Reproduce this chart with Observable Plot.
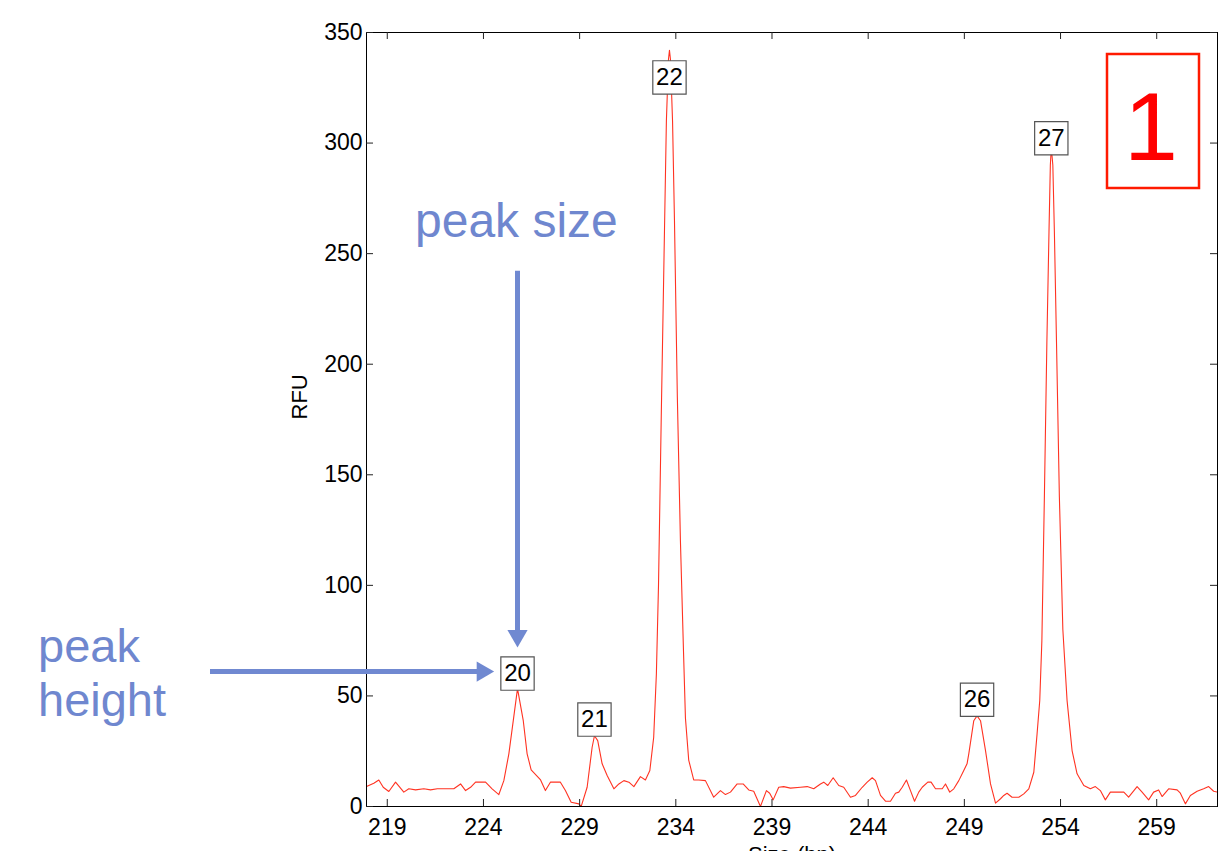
<!DOCTYPE html>
<html>
<head>
<meta charset="utf-8">
<script src="https://cdn.jsdelivr.net/npm/d3@7"></script>
<script src="https://cdn.jsdelivr.net/npm/@observablehq/plot@0.6"></script>
<style>
  html, body { margin: 0; padding: 0; background: #fff; overflow: hidden; }
  #wrap { position: relative; width: 1218px; height: 851px; }
  #chart { position: absolute; left: 0; top: 0; }
  #overlay { position: absolute; left: 0; top: 0; pointer-events: none; }
</style>
</head>
<body>
<div id="wrap">
  <div id="chart"></div>
  <svg id="overlay" width="1218" height="851" font-family="'Liberation Sans', Arial, Helvetica, sans-serif">
    <text x="415" y="237" font-size="48" fill="#6f87cf">peak size</text>
    <text x="38" y="662" font-size="47" fill="#6f87cf">peak</text>
    <text x="38" y="716" font-size="47" fill="#6f87cf">height</text>
    <rect x="1107" y="54" width="92" height="134" fill="none" stroke="#ff1a00" stroke-width="2.5"></rect>
    <text x="1124" y="159.5" font-size="97" fill="#ff0000">1</text>
  </svg>
</div>
<script>
// Trace: fragment size (bp) and signal (RFU)
const sizes = [
  217.92, 218.30, 218.56, 218.79, 219.08, 219.43, 219.86, 220.12, 220.47, 220.90,
  221.25, 221.60, 222.46, 222.81, 223.07, 223.33, 223.59, 224.11, 224.45, 224.80,
  225.06, 225.32, 225.55, 225.77, 226.07, 226.27, 226.48, 226.97, 227.22, 227.48,
  228.00, 228.26, 228.56, 228.96, 229.08, 229.39, 229.65, 229.77, 229.94, 230.17,
  230.43, 230.78, 231.04, 231.30, 231.56, 231.82, 232.16, 232.42, 232.65, 232.85,
  232.99, 233.10, 233.25, 233.41, 233.51, 233.62, 233.67, 233.72, 233.83, 233.93,
  234.08, 234.24, 234.40, 234.50, 234.67, 234.93, 235.19, 235.54, 235.97, 236.32,
  236.58, 236.84, 237.19, 237.50, 237.79, 238.05, 238.40, 238.71, 238.88, 239.06,
  239.35, 239.61, 239.96, 240.48, 240.83, 241.17, 241.52, 241.69, 241.90, 242.18,
  242.47, 242.73, 243.08, 243.34, 243.69, 243.95, 244.21, 244.38, 244.64, 244.90,
  245.16, 245.42, 245.59, 245.77, 245.99, 246.20, 246.41, 246.63, 246.81, 247.10,
  247.27, 247.50, 247.85, 248.02, 248.24, 248.45, 248.71, 248.97, 249.14, 249.23,
  249.49, 249.66, 249.84, 250.10, 250.36, 250.62, 250.88, 251.05, 251.22, 251.48,
  251.83, 252.09, 252.35, 252.61, 252.78, 252.92, 253.03, 253.16, 253.29, 253.40,
  253.47, 253.52, 253.60, 253.68, 253.79, 253.94, 254.12, 254.34, 254.60, 254.86,
  255.21, 255.55, 255.81, 256.07, 256.33, 256.59, 256.94, 257.29, 257.54, 257.98,
  258.24, 258.58, 258.84, 259.10, 259.28, 259.62, 260.06, 260.23, 260.49, 260.75,
  261.10, 261.44, 261.70, 261.96, 262.16
];
const rfu = [
  9.0, 10.5, 12.0, 8.7, 6.8, 11.0, 6.5, 8.0, 7.5, 8.0,
  7.5, 8.0, 8.0, 10.2, 7.2, 8.7, 11.0, 11.0, 8.0, 5.4,
  11.7, 23.8, 38.8, 53.3, 38.8, 23.8, 16.6, 12.0, 7.2, 11.0,
  11.0, 7.2, 1.9, 1.2, 0, 8.7, 26.8, 32.0, 29.8, 19.3,
  14.0, 8.0, 10.2, 11.7, 11.0, 9.0, 13.5, 12.0, 16.3, 31.3,
  60, 100, 180, 260, 310, 338, 342, 338, 310, 265,
  185, 120, 70, 40, 21, 12, 12, 11.7, 4.2, 7.2,
  5.4, 6.5, 10.2, 10.2, 7.5, 6.9, 0, 7.2, 6.0, 3.0,
  8.7, 9.0, 8.3, 8.7, 9.0, 8.0, 10.2, 11.0, 9.5, 13.0,
  9.5, 8.7, 4.2, 5.0, 8.7, 11.0, 13.0, 11.7, 5.0, 2.4,
  2.4, 6.0, 6.5, 8.7, 12.0, 7.2, 2.4, 6.5, 8.7, 11.0,
  11.0, 8.0, 8.0, 10.2, 6.5, 8.0, 11.7, 16.3, 19.3, 23.8,
  38.8, 41.0, 38.8, 25.3, 10.2, 1.5, 3.5, 5.0, 6.0, 4.2,
  4.2, 5.7, 8.0, 15.5, 32.8, 47.9, 75, 140, 210, 260,
  290, 298, 290, 260, 210, 140, 80, 47.9, 25.3, 14.8,
  9.5, 8.0, 9.0, 7.2, 3.0, 6.5, 6.5, 6.5, 4.2, 9.0,
  6.5, 3.0, 6.5, 7.5, 4.5, 8.0, 7.5, 6.0, 1.2, 5.0,
  6.9, 8.0, 9.0, 6.9, 6.5
];

// Called peaks
const peakSizes = [225.77, 229.77, 233.67, 249.66, 253.52];
const peakLabels = ["20", "21", "22", "26", "27"];
const labelRFU = [60.1, 39.3, 329.7, 48.3, 302.2];

// Axis ticks
const xTicks = [219, 224, 229, 234, 239, 244, 249, 254, 259];
const yTicks = [0, 50, 100, 150, 200, 250, 300, 350];

// Annotation arrows (pointing at peak 20)
const sizeArrow = [{x: peakSizes[0], y1: 242, y2: 79, head: 77.2}];
const heightArrow = [{y: 61, x1: 209.81, x2: 223.7, head: 223.95}];

const trace = sizes.map((s, i) => ({size: s, rfu: rfu[i]}));
const peaks = peakSizes.map((s, i) => ({size: s, label: peakLabels[i], ly: labelRFU[i]}));

const blue = "#7089d1";
const font = "'Liberation Sans', Arial, Helvetica, sans-serif";
const W = 1218, H = 851, ML = 366, MR = 1, MT = 32, MB = 45;
const frameW = W - ML - MR, frameH = H - MT - MB, tick = 7;

const chart = Plot.plot({
  width: W,
  height: H,
  marginLeft: ML,
  marginRight: MR,
  marginTop: MT,
  marginBottom: MB,
  x: {domain: [217.92, 262.16]},
  y: {domain: [0, 350]},
  style: {fontFamily: font, background: "transparent", color: "black", overflow: "visible"},
  marks: [
    Plot.line(trace, {x: "size", y: "rfu", stroke: "#ff3322", strokeWidth: 1.1, clip: true}),
    Plot.dot(peaks, {x: "size", y: "ly", symbol: "square", r: 18.8, fill: "white", stroke: "#555", strokeWidth: 1.2}),
    Plot.text(peaks, {x: "size", y: "ly", text: "label", fontSize: 24, fill: "black"}),
    Plot.frame({stroke: "black", strokeWidth: 1}),
    // inward ticks (MATLAB style) on all four sides
    Plot.tickX(xTicks, {x: d => d, insetTop: frameH - tick, stroke: "#222"}),
    Plot.tickX(xTicks, {x: d => d, insetBottom: frameH - tick, stroke: "#222"}),
    Plot.tickY(yTicks, {y: d => d, insetRight: frameW - tick, stroke: "#222"}),
    Plot.tickY(yTicks, {y: d => d, insetLeft: frameW - tick, stroke: "#222"}),
    Plot.axisX({ticks: xTicks, tickSize: 0, tickPadding: 12, fontSize: 23, label: null}),
    Plot.axisY({ticks: yTicks, tickSize: 0, tickPadding: 4, fontSize: 23, label: null}),
    Plot.text(["RFU"], {frameAnchor: "left", dx: -67, rotate: -90, fontSize: 22, fill: "black"}),
    Plot.text(["Size (bp)"], {frameAnchor: "bottom", dy: 40, lineAnchor: "top", fontSize: 22, fill: "black"}),
    Plot.ruleX(sizeArrow, {x: "x", y1: "y1", y2: "y2", stroke: blue, strokeWidth: 5}),
    Plot.dot(sizeArrow, {x: "x", y: "head", symbol: "triangle", r: 7.5, fill: blue, rotate: 180}),
    Plot.ruleY(heightArrow, {y: "y", x1: "x1", x2: "x2", stroke: blue, strokeWidth: 5}),
    Plot.dot(heightArrow, {x: "head", y: "y", symbol: "triangle", r: 7.5, fill: blue, rotate: 90})
  ]
});
document.getElementById("chart").appendChild(chart);
</script>
</body>
</html>
